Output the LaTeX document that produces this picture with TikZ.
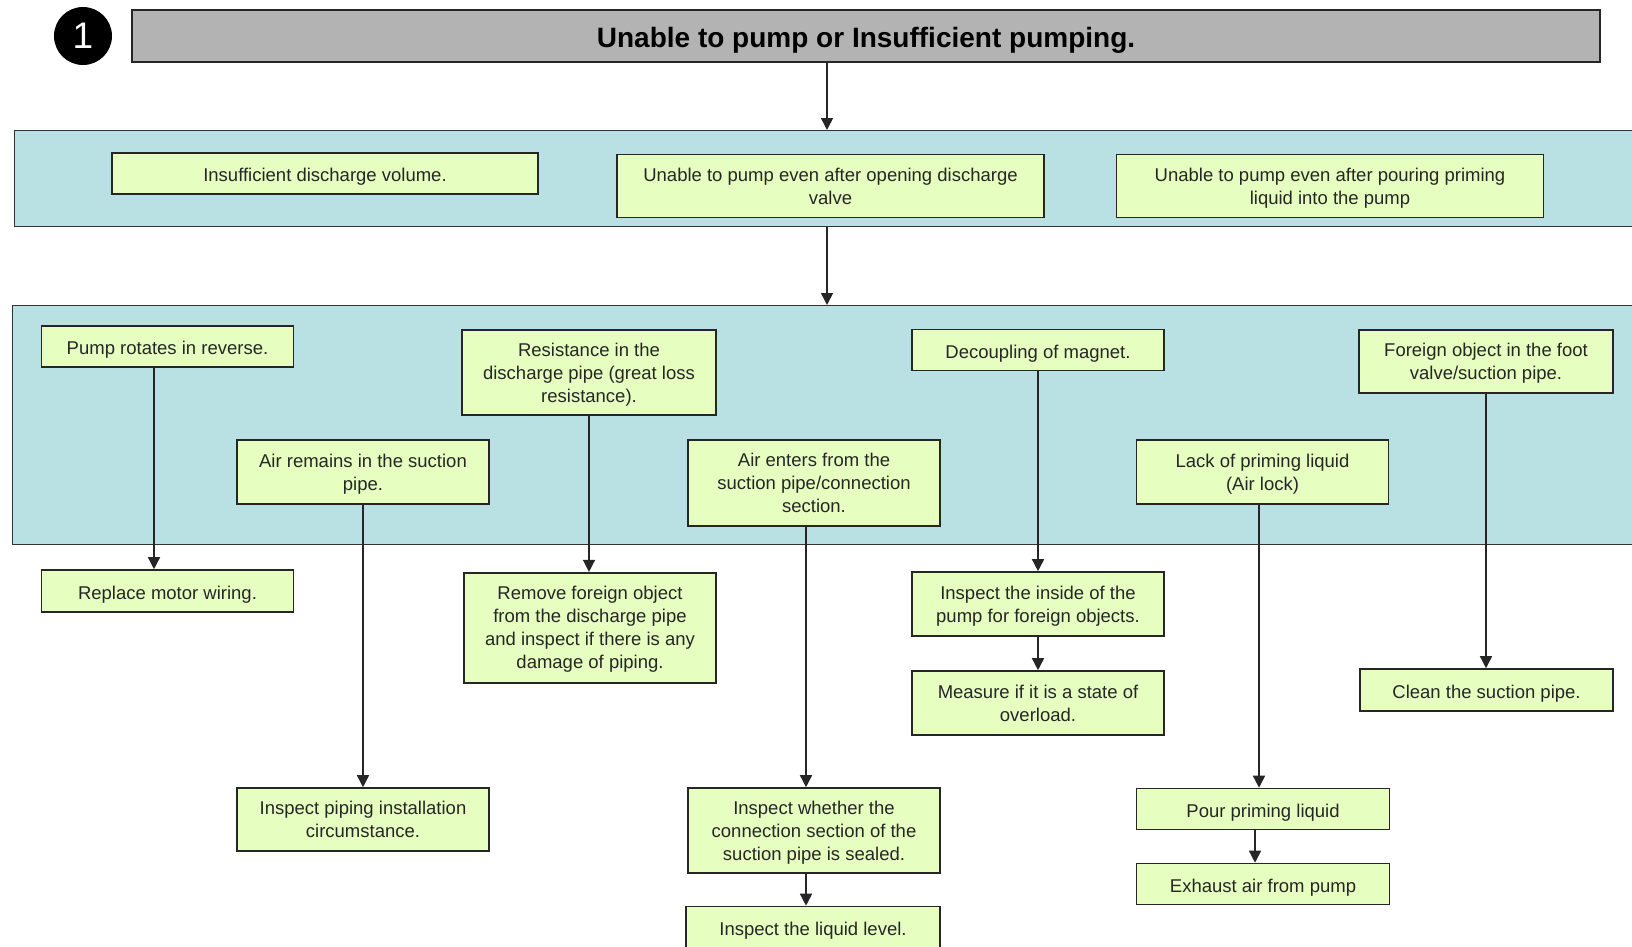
\documentclass[tikz,border=0pt]{standalone}
\usepackage{fontspec}
\setmainfont{Liberation Sans}
\usetikzlibrary{arrows.meta}
\definecolor{bandblue}{RGB}{185,224,227}
\definecolor{boxgreen}{RGB}{230,255,192}
\definecolor{headgray}{RGB}{179,179,179}

\begin{document}
\begin{tikzpicture}[x=1pt,y=-1pt,
  band/.style={draw=black!80,line width=1.4pt,fill=bandblue,inner sep=0pt,anchor=north west},
  box/.style={draw=black!85,line width=1.6pt,fill=boxgreen,text=black!85,align=center,
    inner sep=0pt,minimum width=252pt,minimum height=41pt,text depth=0pt,
    execute at begin node={\rule{0pt}{16.5pt}},font=\fontsize{18.5}{23}\selectfont},
  flow/.style={draw=black!85,line width=1.5pt,-{Triangle[length=12pt,width=12pt]}}]
\useasboundingbox (0,0) rectangle (1632,946);
\clip (0,0) rectangle (1632,946);
% heading
\node[circle,fill=black,minimum size=58pt,inner sep=0pt,text=white,
  font=\fontsize{37}{40}\selectfont] (badge) at (83,36) {1};
\node[draw=black!85,line width=1.6pt,fill=headgray,minimum width=1468pt,minimum height=52pt,
  text depth=0pt,font=\bfseries\fontsize{28}{32}\selectfont] (title) at (866,36)
  {\rule{0pt}{23pt}Unable to pump or Insufficient pumping.};
% symptoms
\node[band,minimum width=1660pt,minimum height=96pt] (causes) at (13.5,130) {};
\node[box,minimum width=426pt] (insuff) at (325,173.5) {Insufficient discharge volume.};
\node[box,minimum width=427pt,minimum height=63pt] (nodisch) at (830.5,186) {Unable to pump even after opening discharge\\valve};
\node[box,minimum width=427pt,minimum height=63pt] (nopour) at (1330,186) {Unable to pump even after pouring priming\\liquid into the pump};
% causes
\node[band,minimum width=1660pt,minimum height=239pt] (checks) at (11.5,305) {};
\node[box] (reverse) at (167.5,346.5) {Pump rotates in reverse.};
\node[box,minimum width=254pt,minimum height=85pt] (resist) at (589,372.5) {Resistance in the\\discharge pipe (great loss\\resistance).};
\node[box] (decouple) at (1038,350) {Decoupling of magnet.};
\node[box,minimum width=254pt,minimum height=63pt] (foreign) at (1486,361.5) {Foreign object in the foot\\valve/suction pipe.};
\node[box,minimum height=64pt] (remain) at (363,472) {Air remains in the suction\\pipe.};
\node[box,minimum height=86pt] (enter) at (814,483) {Air enters from the\\suction pipe/connection\\section.};
\node[box,minimum height=64pt] (lack) at (1262.5,472) {Lack of priming liquid\\(Air lock)};
% remedies
\node[box,minimum height=42pt] (wiring) at (167.5,591) {Replace motor wiring.};
\node[box,minimum height=110pt] (remove) at (590,627.7) {Remove foreign object\\from the discharge pipe\\and inspect if there is any\\damage of piping.};
\node[box,minimum height=64pt] (inside) at (1038,604) {Inspect the inside of the\\pump for foreign objects.};
\node[box,minimum height=64pt] (overload) at (1038,703) {Measure if it is a state of\\overload.};
\node[box,minimum width=253pt,minimum height=42pt] (clean) at (1486.5,690) {Clean the suction pipe.};
\node[box,minimum height=63pt] (piping) at (363,819.5) {Inspect piping installation\\circumstance.};
\node[box,minimum height=85pt] (sealed) at (814,830.5) {Inspect whether the\\connection section of the\\suction pipe is sealed.};
\node[box,minimum width=254pt,minimum height=42pt] (level) at (813,927.5) {Inspect the liquid level.};
\node[box,minimum width=253pt] (pour) at (1263,809) {Pour priming liquid};
\node[box,minimum width=253pt] (exhaust) at (1263,884) {Exhaust air from pump};
% arrows
\coordinate (drop) at (827,0);
\draw[flow] (title.south -| drop) -- (causes.north -| drop);
\draw[flow] (causes.south -| drop) -- (checks.north -| drop);
\draw[flow] ([xshift=-13.5pt]reverse.south) -- ([xshift=-13.5pt]wiring.north);
\draw[flow] (remain.south) -- (piping.north);
\draw[flow] (resist.south) -- (resist.south |- remove.north);
\draw[flow] ([xshift=-8pt]enter.south) -- ([xshift=-8pt]sealed.north);
\draw[flow] ([xshift=-8pt]sealed.south) -- ([xshift=-7pt]level.north);
\draw[flow] (decouple.south) -- (inside.north);
\draw[flow] (inside.south) -- (overload.north);
\draw[flow] (foreign.south) -- (foreign.south |- clean.north);
\draw[flow] ([xshift=-3.5pt]lack.south) -- ([xshift=-4pt]pour.north);
\draw[flow] ([xshift=-8pt]pour.south) -- ([xshift=-8pt]exhaust.north);
\end{tikzpicture}
\end{document}
